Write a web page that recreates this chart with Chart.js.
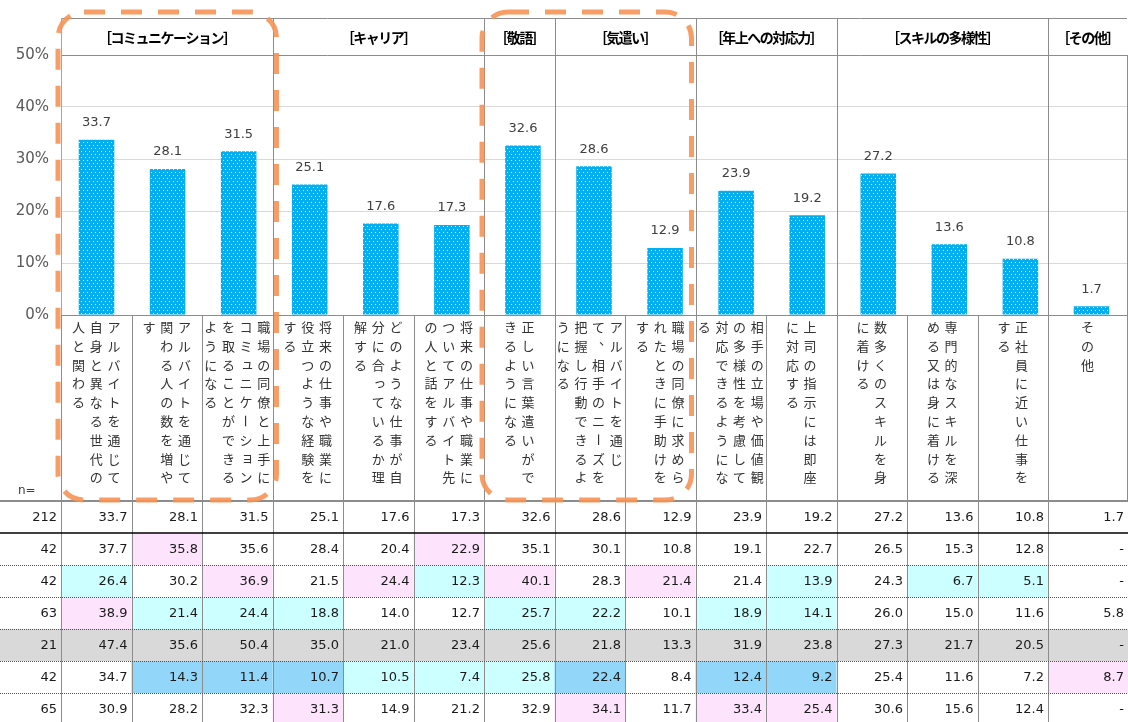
<!DOCTYPE html>
<html lang="ja">
<head>
<meta charset="utf-8">
<title>アルバイトを通じて身に着けたいこと</title>
<script src="https://cdn.jsdelivr.net/npm/chart.js@4.4.1/dist/chart.umd.min.js"></script>
<style>
  html, body { margin: 0; padding: 0; background: #fff; }
  #wrap { position: relative; width: 1128px; height: 722px; }
</style>
</head>
<body>
<div id="wrap"><canvas id="chart" width="1128" height="722"></canvas></div>
<script>
// group headers and how many categories each one spans
const groupNames = ["［コミュニケーション］", "［キャリア］", "［敬語］", "［気遣い］", "［年上への対応力］", "［スキルの多様性］", "［その他］"];
const groupSpans = [3, 3, 1, 2, 2, 3, 1];

// category labels, one string per vertical text column (right to left)
const categories = [
  ["アルバイトを通じて", "自身と異なる世代の", "人と関わる"],
  ["アルバイトを通じて", "関わる人の数を増や", "す"],
  ["職場の同僚と上手に", "コミュニケーション", "を取ることができる", "ようになる"],
  ["将来の仕事や職業に", "役立つような経験を", "する"],
  ["どのような仕事が自", "分に合っているか理", "解する"],
  ["将来の仕事や職業に", "ついてアルバイト先", "の人と話をする"],
  ["正しい言葉遣いがで", "きるようになる"],
  ["アルバイトを通じ", "て、相手のニーズを", "把握し行動できるよ", "うになる"],
  ["職場の同僚に求めら", "れたときに手助けを", "する"],
  ["相手の立場や価値観", "の多様性を考慮して", "対応できるようにな", "る"],
  ["上司の指示には即座", "に対応する"],
  ["数多くのスキルを身", "に着ける"],
  ["専門的なスキルを深", "める又は身に着ける"],
  ["正社員に近い仕事を", "する"],
  ["その他"]
];

// total (%), drawn as bars
const values = [33.7, 28.1, 31.5, 25.1, 17.6, 17.3, 32.6, 28.6, 12.9, 23.9, 19.2, 27.2, 13.6, 10.8, 1.7];

// y axis
const yTicks = [0, 10, 20, 30, 40, 50];

// table below the chart
const sampleSizes = [212, 42, 42, 63, 21, 42, 65];
const segRow1 = [37.7, 35.8, 35.6, 28.4, 20.4, 22.9, 35.1, 30.1, 10.8, 19.1, 22.7, 26.5, 15.3, 12.8, null];
const segRow2 = [26.4, 30.2, 36.9, 21.5, 24.4, 12.3, 40.1, 28.3, 21.4, 21.4, 13.9, 24.3, 6.7, 5.1, null];
const segRow3 = [38.9, 21.4, 24.4, 18.8, 14.0, 12.7, 25.7, 22.2, 10.1, 18.9, 14.1, 26.0, 15.0, 11.6, 5.8];
const segRow4 = [47.4, 35.6, 50.4, 35.0, 21.0, 23.4, 25.6, 21.8, 13.3, 31.9, 23.8, 27.3, 21.7, 20.5, null];
const segRow5 = [34.7, 14.3, 11.4, 10.7, 10.5, 7.4, 25.8, 22.4, 8.4, 12.4, 9.2, 25.4, 11.6, 7.2, 8.7];
const segRow6 = [30.9, 28.2, 32.3, 31.3, 14.9, 21.2, 32.9, 34.1, 11.7, 33.4, 25.4, 30.6, 15.6, 12.4, null];
const tableRows = [values, segRow1, segRow2, segRow3, segRow4, segRow5, segRow6];

// cell shading per row: w = none, p = higher, c = lower, b = much lower, g = small base
const cellShades = [
  "wwwwwwwwwwwwwww",
  "wpwwwpwwwwwwwww",
  "cwpwpcpwpwcwccw",
  "pcccwwccwccwwww",
  "ggggggggggggggg",
  "wbbbcccbwbbwwwp",
  "wwwpwwwpwppwwww"
];
// highlighted groups (index of first and last category)
const highlights = [[0, 2], [6, 8]];

const shadeColors = { w: null, p: "#FDE4FC", c: "#CCFFFF", b: "#92D7F9", g: "#D9D9D9" };
const jpFont = '"Noto Sans CJK JP", "Noto Sans", sans-serif';
const numFont = '"DejaVu Sans", Verdana, sans-serif';

// layout of the sheet cells behind the chart
const sheetLeft = 61;
const colW = 70.5;
const headTop = 18, headBottom = 55, labelBottom = 500, rowH = 32;

function colEdges(chart) {
  const e = [];
  for (let i = 0; i < categories.length; i++) e.push(sheetLeft + i * colW);
  e.push(chart.chartArea.right);
  return e;
}

function dotPattern(ctx) {
  const c = document.createElement("canvas");
  c.width = 4; c.height = 6;
  const g = c.getContext("2d");
  g.fillStyle = "#00B0F0";
  g.fillRect(0, 0, 4, 6);
  g.fillStyle = "#ffffff";
  g.fillRect(1, 1, 1, 1);
  g.fillRect(3, 4, 1, 1);
  return ctx.createPattern(c, "repeat");
}

function line(ctx, x1, y1, x2, y2) {
  ctx.beginPath();
  ctx.moveTo(x1, y1);
  ctx.lineTo(x2, y2);
  ctx.stroke();
}

function drawVertical(ctx, cols, cx, top) {
  const colGap = 17.7, rowGap = 18.8;
  const n = cols.length;
  cols.forEach((str, i) => {
    const x = cx + ((n - 1) / 2 - i) * colGap;
    [...str].forEach((ch, j) => {
      const y = top + j * rowGap;
      if (ch === "ー") {
        ctx.save();
        ctx.translate(x, y);
        ctx.rotate(Math.PI / 2);
        ctx.fillText(ch, 0, 0);
        ctx.restore();
      } else if (ch === "、" || ch === "。") {
        ctx.fillText(ch, x + 7, y - 7);
      } else if ("ャュョッァィゥェォゃゅょっ".includes(ch)) {
        ctx.fillText(ch, x + 1.5, y - 1.5);
      } else {
        ctx.fillText(ch, x, y);
      }
    });
  });
}

const valueLabels = {
  id: "valueLabels",
  afterDatasetsDraw(chart) {
    const ctx = chart.ctx;
    ctx.save();
    ctx.font = "13px " + numFont;
    ctx.fillStyle = "#404040";
    ctx.textAlign = "center";
    ctx.textBaseline = "middle";
    chart.getDatasetMeta(0).data.forEach((bar, i) => {
      ctx.fillText(values[i].toFixed(1), bar.x, bar.y - 17);
    });
    ctx.restore();
  }
};

const sheet = {
  id: "sheet",
  beforeDraw(chart) {
    const ctx = chart.ctx;
    const e = colEdges(chart);
    ctx.save();
    ctx.fillStyle = "#fff";
    ctx.fillRect(0, 0, chart.width, chart.height);
    const top = labelBottom + 1;
    cellShades.forEach((row, r) => {
      const y = top + r * rowH;
      if (row[0] === "g") {
        ctx.fillStyle = shadeColors.g;
        ctx.fillRect(0, y, chart.width, rowH);
        return;
      }
      [...row].forEach((code, c) => {
        if (!shadeColors[code]) return;
        ctx.fillStyle = shadeColors[code];
        const right = c === categories.length - 1 ? chart.width : e[c + 1];
        ctx.fillRect(e[c], y, right - e[c], rowH);
      });
    });
    ctx.restore();
  },
  afterDraw(chart) {
    const ctx = chart.ctx;
    const area = chart.chartArea;
    const e = colEdges(chart);
    const W = chart.width;
    ctx.save();

    // x axis line
    ctx.strokeStyle = "#8C8C8C";
    ctx.lineWidth = 1;
    line(ctx, area.left, area.bottom + 0.5, area.right, area.bottom + 0.5);

    // header box
    line(ctx, sheetLeft, headTop + 0.5, area.right, headTop + 0.5);
    line(ctx, sheetLeft, headBottom + 0.5, area.right, headBottom + 0.5);

    // group separators through header, plot and label area
    let idx = 0;
    const groupEdges = [0];
    groupSpans.forEach(s => { idx += s; groupEdges.push(idx); });
    groupEdges.forEach(g => {
      const x = Math.round(e[g]) + 0.5;
      ctx.strokeStyle = g === 0 ? "#A6A6A6" : "#8C8C8C";
      line(ctx, x, g === categories.length ? headBottom : headTop, x, labelBottom);
    });

    // column separators in label area and table
    ctx.strokeStyle = "#8C8C8C";
    for (let i = 0; i < categories.length; i++) {
      const x = Math.round(e[i]) + 0.5;
      line(ctx, x, area.bottom, x, chart.height);
    }

    // group titles
    ctx.fillStyle = "#000";
    ctx.font = "bold 14px " + jpFont;
    ctx.textAlign = "center";
    ctx.textBaseline = "middle";
    if ("letterSpacing" in ctx) ctx.letterSpacing = "-1.5px";
    let start = 0;
    groupNames.forEach((name, gi) => {
      const end = start + groupSpans[gi];
      ctx.fillText(name, (e[start] + e[end]) / 2, (headTop + headBottom) / 2 + 1);
      start = end;
    });
    if ("letterSpacing" in ctx) ctx.letterSpacing = "0px";

    // vertical category labels
    ctx.fillStyle = "#333";
    ctx.font = "13px " + jpFont;
    categories.forEach((cols, i) => {
      drawVertical(ctx, cols, (e[i] + e[i + 1]) / 2, area.bottom + 12);
    });

    // table lines
    ctx.fillStyle = "#404040";
    ctx.font = "12px " + numFont;
    ctx.textAlign = "left";
    ctx.fillText("n=", 18, labelBottom - 9);

    ctx.strokeStyle = "#8C8C8C";
    ctx.lineWidth = 2;
    line(ctx, 0, labelBottom + 1, W, labelBottom + 1);
    ctx.strokeStyle = "#000";
    ctx.lineWidth = 1.5;
    line(ctx, 0, labelBottom + 1 + rowH, W, labelBottom + 1 + rowH);
    ctx.lineWidth = 1;
    ctx.strokeStyle = "#505050";
    ctx.setLineDash([1, 1]);
    for (let r = 2; r < tableRows.length; r++) {
      const y = labelBottom + 1 + r * rowH + 0.5;
      line(ctx, 0, y, W, y);
    }
    ctx.setLineDash([]);

    // table values
    ctx.fillStyle = "#1a1a1a";
    ctx.font = "13px " + numFont;
    ctx.textAlign = "right";
    tableRows.forEach((row, r) => {
      const y = labelBottom + 1 + r * rowH + rowH / 2 + 1;
      ctx.fillText(String(sampleSizes[r]), sheetLeft - 4, y);
      row.forEach((v, c) => {
        const right = c === categories.length - 1 ? W : e[c + 1];
        ctx.fillText(v === null ? "-" : v.toFixed(1), right - 4, y);
      });
    });

    // orange dashed highlight boxes
    ctx.strokeStyle = "rgba(247,146,84,0.9)";
    ctx.lineWidth = 5;
    ctx.setLineDash([21, 16]);
    highlights.forEach(([a, b], k) => {
      const x1 = e[a] - (k === 0 ? 3 : 2);
      const x2 = e[b + 1] + (k === 0 ? 4 : -4);
      ctx.beginPath();
      ctx.roundRect(x1, 12, x2 - x1, labelBottom - 12, 26);
      ctx.stroke();
    });
    ctx.restore();
  }
};

const canvas = document.getElementById("chart");
const ctx = canvas.getContext("2d");

new Chart(ctx, {
  type: "bar",
  data: {
    labels: categories.map(c => c.join("")),
    datasets: [{
      data: values,
      backgroundColor: dotPattern(ctx),
      barPercentage: 0.5,
      categoryPercentage: 1
    }]
  },
  options: {
    responsive: false,
    animation: false,
    layout: { padding: { top: headBottom, right: 1, left: 0, bottom: 0 } },
    plugins: {
      legend: { display: false },
      tooltip: { enabled: false }
    },
    scales: {
      x: {
        grid: { display: false },
        border: { display: false },
        ticks: { display: false },
        afterFit: s => { s.height = 722 - 315; }
      },
      y: {
        min: yTicks[0],
        max: yTicks[yTicks.length - 1],
        afterBuildTicks: s => { s.ticks = yTicks.map(v => ({ value: v })); },
        ticks: {
          callback: v => v + "%",
          color: "#595959",
          font: { family: numFont, size: 15 },
          padding: 12
        },
        grid: { color: "#D9D9D9", drawTicks: false },
        border: { display: false },
        afterFit: s => { s.width = sheetLeft; }
      }
    }
  },
  plugins: [sheet, valueLabels]
});
</script>
</body>
</html>
